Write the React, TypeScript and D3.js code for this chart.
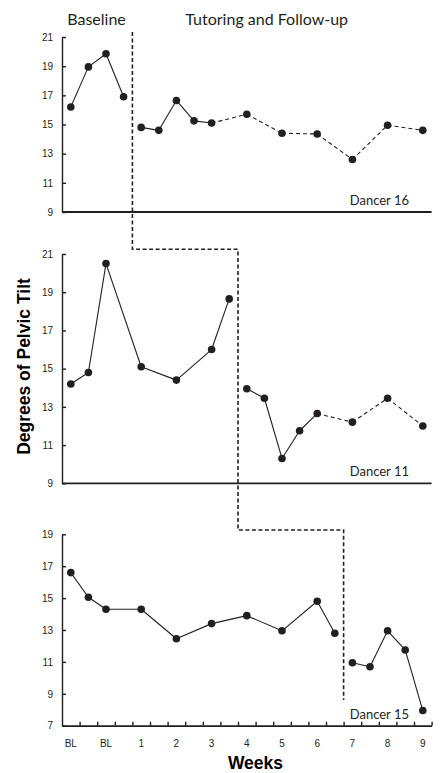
import React, { useEffect, useRef } from "react";
import * as d3 from "d3";

// half-week slot of every session (0 = first BL slot)
const dancer16Slots = [0, 1, 2, 3, 4, 5, 6, 7, 8, 10, 12, 14, 16, 18, 20];
const dancer16Values = [16.2, 18.95, 19.85, 16.9, 14.8, 14.6, 16.65, 15.25, 15.1, 15.7, 14.4, 14.35, 12.6, 14.95, 14.6];
const dancer16Phase = ["B", "B", "B", "B", "T", "T", "T", "T", "T", "F", "F", "F", "F", "F", "F"];

const dancer11Slots = [0, 1, 2, 4, 6, 8, 9, 10, 11, 12, 13, 14, 16, 18, 20];
const dancer11Values = [14.2, 14.8, 20.5, 15.1, 14.4, 16.0, 18.65, 13.95, 13.45, 10.3, 11.75, 12.65, 12.2, 13.45, 12.0];
const dancer11Phase = ["B", "B", "B", "B", "B", "B", "B", "T", "T", "T", "T", "T", "F", "F", "F"];

const dancer15Slots = [0, 1, 2, 4, 6, 8, 10, 12, 14, 15, 16, 17, 18, 19, 20];
const dancer15Values = [16.6, 15.05, 14.3, 14.3, 12.45, 13.4, 13.9, 12.95, 14.8, 12.8, 10.95, 10.7, 12.95, 11.75, 7.95];
const dancer15Phase = ["B", "B", "B", "B", "B", "B", "B", "B", "B", "B", "T", "T", "T", "T", "T"];

const weekLabels = ["BL", "BL", "1", "2", "3", "4", "5", "6", "7", "8", "9"];
const weekLabelSlots = [0, 2, 4, 6, 8, 10, 12, 14, 16, 18, 20];
const phaseChangeSlots = [3.5, 9.5, 15.5];

const ink = "#231f20";
const numFont = "'Liberation Sans', Arial, sans-serif";
const textFont = "Lato, 'Open Sans', sans-serif";

const panels = [
  { name: "Dancer 16", slots: dancer16Slots, values: dancer16Values, phase: dancer16Phase, domain: [9, 21], top: 37, bottom: 212 },
  { name: "Dancer 11", slots: dancer11Slots, values: dancer11Values, phase: dancer11Phase, domain: [9, 21], top: 254, bottom: 483.3 },
  { name: "Dancer 15", slots: dancer15Slots, values: dancer15Values, phase: dancer15Phase, domain: [7, 19], top: 534.3, bottom: 725.7 },
];

export default function App() {
  const ref = useRef<SVGSVGElement>(null);

  useEffect(() => {
    const svg = d3.select(ref.current);
    svg.selectAll("*").remove();

    const x = d3.scaleLinear().domain([-0.5, 20.5]).range([62, 431.6]);

    panels.forEach((p, pi) => {
      const y = d3.scaleLinear().domain(p.domain).range([p.bottom, p.top]);
      const g = svg.append("g");

      // y axis
      const yAxis = d3
        .axisLeft(y)
        .tickValues(d3.range(p.domain[0], p.domain[1] + 1, 2))
        .tickSizeInner(-4)
        .tickSizeOuter(0)
        .tickPadding(9);
      const ya = g.append("g").attr("transform", `translate(${x(-0.5)},0)`).call(yAxis);
      ya.select(".domain").attr("stroke", ink).attr("stroke-width", 1.4);
      ya.selectAll(".tick line").attr("stroke", ink).attr("stroke-width", 1.4);
      ya.selectAll(".tick text").attr("fill", ink);
      ya.attr("font-family", numFont).attr("font-size", 10);

      // x axis line
      const isLast = pi === panels.length - 1;
      if (isLast) {
        const xAxis = d3
          .axisBottom(x)
          .tickValues(d3.range(0.5, 20.6, 1))
          .tickSizeInner(-4)
          .tickSizeOuter(0)
          .tickFormat(() => "");
        const xa = g.append("g").attr("transform", `translate(0,${p.bottom})`).call(xAxis);
        xa.select(".domain").attr("stroke", ink).attr("stroke-width", 1.8);
        xa.selectAll(".tick line").attr("stroke", ink).attr("stroke-width", 1.4);

        g.selectAll(".wk")
          .data(weekLabels)
          .enter()
          .append("text")
          .attr("x", (d, i) => x(weekLabelSlots[i]))
          .attr("y", 746.5)
          .attr("text-anchor", "middle")
          .attr("font-family", numFont)
          .attr("font-size", 10)
          .attr("fill", ink)
          .text((d) => d);
      } else {
        g.append("line")
          .attr("x1", x(-0.5))
          .attr("x2", x(20.5))
          .attr("y1", p.bottom)
          .attr("y2", p.bottom)
          .attr("stroke", ink)
          .attr("stroke-width", 1.8);
      }

      // connecting lines, broken at the baseline/tutoring change
      const pts = p.slots.map((s, i) => ({ s, v: p.values[i], ph: p.phase[i] }));
      for (let i = 0; i < pts.length - 1; i++) {
        const a = pts[i];
        const b = pts[i + 1];
        if (a.ph === "B" && b.ph !== "B") continue;
        g.append("line")
          .attr("x1", x(a.s))
          .attr("y1", y(a.v))
          .attr("x2", x(b.s))
          .attr("y2", y(b.v))
          .attr("stroke", ink)
          .attr("stroke-width", 1.1)
          .attr("stroke-dasharray", b.ph === "F" ? "4,3" : null);
      }

      g.selectAll("circle")
        .data(pts)
        .enter()
        .append("circle")
        .attr("cx", (d) => x(d.s))
        .attr("cy", (d) => y(d.v))
        .attr("r", 3.8)
        .attr("fill", ink);

      g.append("text")
        .attr("x", 409)
        .attr("y", p.bottom - 7)
        .attr("text-anchor", "end")
        .attr("font-family", textFont)
        .attr("font-size", 13)
        .attr("fill", ink)
        .text(p.name);
    });

    // phase change staircase
    const stepY = [32, 249.3, 530, 700];
    const stair = d3.path();
    stair.moveTo(x(phaseChangeSlots[0]), stepY[0]);
    phaseChangeSlots.forEach((s, i) => {
      stair.lineTo(x(s), stepY[i + 1]);
      if (i < phaseChangeSlots.length - 1) stair.lineTo(x(phaseChangeSlots[i + 1]), stepY[i + 1]);
    });
    svg
      .append("path")
      .attr("d", stair.toString())
      .attr("fill", "none")
      .attr("stroke", ink)
      .attr("stroke-width", 1.6)
      .attr("stroke-dasharray", "4,2.5");

    // headings
    svg.append("text").attr("x", 96.5).attr("y", 25).attr("text-anchor", "middle")
      .attr("font-family", textFont).attr("font-size", 16).attr("fill", ink).text("Baseline");
    svg.append("text").attr("x", 266.7).attr("y", 25).attr("text-anchor", "middle")
      .attr("font-family", textFont).attr("font-size", 16).attr("fill", ink).text("Tutoring and Follow-up");

    svg.append("text")
      .attr("transform", "translate(30,366.5) rotate(-90)")
      .attr("text-anchor", "middle")
      .attr("font-family", numFont)
      .attr("font-weight", "bold")
      .attr("font-size", 17.5)
      .attr("fill", "#000")
      .text("Degrees of Pelvic Tilt");

    svg.append("text")
      .attr("x", 255.5)
      .attr("y", 768.5)
      .attr("text-anchor", "middle")
      .attr("font-family", numFont)
      .attr("font-weight", "bold")
      .attr("font-size", 17.5)
      .attr("fill", "#000")
      .text("Weeks");
  }, []);

  return (
    <svg
      ref={ref}
      width={441}
      height={773}
      style={{ position: "absolute", left: 0, top: 0, background: "#fff" }}
    />
  );
}
